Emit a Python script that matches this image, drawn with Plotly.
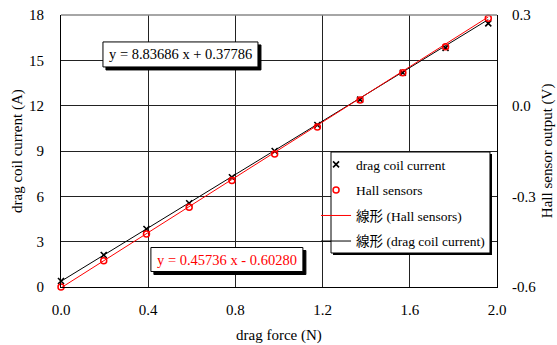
import plotly.graph_objects as go

# Measured data: drag force vs. drag coil current and Hall sensor output
force_n = [0.0, 0.196, 0.392, 0.588, 0.784, 0.98, 1.176, 1.372, 1.568, 1.764, 1.96]
coil_current_a = [0.40, 2.12, 3.84, 5.54, 7.26, 9.00, 10.72, 12.40, 14.18, 15.82, 17.45]
hall_output_v = [-0.600, -0.513, -0.425, -0.336, -0.248, -0.160, -0.071, 0.019, 0.109, 0.195, 0.289]

# Linear fit coefficients (slope, intercept)
coil_fit = (8.83686, 0.37786)
hall_fit = (0.45736, -0.60280)

x_ticks = [0.0, 0.4, 0.8, 1.2, 1.6, 2.0]
x_labels = ["0.0", "0.4", "0.8", "1.2", "1.6", "2.0"]
y_left_ticks = [0, 3, 6, 9, 12, 15, 18]
y_right_ticks = [-0.6, -0.3, 0.0, 0.3]
y_right_labels = ["-0.6", "-0.3", "0.0", "0.3"]

SERIF = "Liberation Serif, Noto Sans CJK JP, serif"
BASE = dict(family=SERIF, size=15, color="black")

fit_x = [force_n[0], force_n[-1]]
coil_line = [coil_fit[0] * x + coil_fit[1] for x in fit_x]
hall_line = [hall_fit[0] * x + hall_fit[1] for x in fit_x]

fig = go.Figure()

fig.add_trace(go.Scatter(
    x=fit_x, y=coil_line, mode="lines", name="線形 (drag coil current)",
    line=dict(color="black", width=1), legendgroup="d", legendrank=4,
))
fig.add_trace(go.Scatter(
    x=fit_x, y=hall_line, mode="lines", name="線形 (Hall sensors)",
    line=dict(color="#ff0000", width=1), yaxis="y2", legendgroup="c", legendrank=3,
))
fig.add_trace(go.Scatter(
    x=force_n, y=coil_current_a, mode="markers", name="drag coil current",
    marker=dict(symbol="x-thin", size=6, line=dict(color="black", width=1.6), color="black"),
    legendgroup="a", legendrank=1, cliponaxis=False,
))
fig.add_trace(go.Scatter(
    x=force_n, y=hall_output_v, mode="markers", name="Hall sensors",
    marker=dict(symbol="circle-open", size=6, color="#ff0000", line=dict(width=1.5)),
    yaxis="y2", legendgroup="b", legendrank=2, cliponaxis=False,
))

shapes = [
    # top frame edge
    dict(type="line", xref="paper", yref="paper", x0=0, x1=1, y0=1, y1=1,
         line=dict(color="#888", width=1.5), layer="above"),
]


# Equation boxes: shadow + white box drawn as pixel-sized shapes around the label
def equation(text, x, y, color, half_w, half_h):
    for dx, fill in ((3, "black"), (0, "white")):
        shapes.append(dict(
            type="rect", xref="x", yref="y", xsizemode="pixel", ysizemode="pixel",
            xanchor=x, yanchor=y,
            x0=-half_w + dx, x1=half_w + dx, y0=-half_h - dx, y1=half_h - dx,
            fillcolor=fill, line=dict(color="black", width=1), layer="above",
        ))
    fig.add_annotation(x=x, y=y, xref="x", yref="y", showarrow=False, text=text,
                       font=dict(family=SERIF, size=14.5, color=color))


equation("y = 8.83686 x + 0.37786", 0.548, 15.39, "black", 77.5, 12.5)
equation("y = 0.45736 x - 0.60280", 0.761, 1.82, "#ff0000", 76, 12)

# legend frame with drop shadow
shapes.append(dict(type="rect", xref="paper", yref="paper",
                   x0=0.6239, x1=0.9885, y0=0.1176, y1=0.4890,
                   fillcolor="black", line=dict(width=0), layer="above"))
shapes.append(dict(type="rect", xref="paper", yref="paper",
                   x0=0.6193, x1=0.9839, y0=0.1250, y1=0.4963,
                   fillcolor="white", line=dict(color="black", width=1), layer="above"))

# Axis titles
fig.add_annotation(text="drag force (N)", xref="paper", yref="paper", x=0.5, y=-0.18,
                   yanchor="middle", showarrow=False, font=BASE)
fig.add_annotation(text="drag coil current (A)", xref="paper", yref="paper",
                   x=-0.101, y=0.5, xanchor="center", textangle=-90, showarrow=False,
                   font=BASE)
fig.add_annotation(text="Hall sensor output (V)", xref="paper", yref="paper",
                   x=1.115, y=0.5, xanchor="center", textangle=-90, showarrow=False,
                   font=BASE)

axis_common = dict(
    ticks="", zeroline=False, automargin=False, tickfont=BASE,
    showline=True, linecolor="black", linewidth=1,
)

fig.update_layout(
    width=557, height=345,
    margin=dict(l=61, r=60, t=15, b=58),
    paper_bgcolor="white", plot_bgcolor="white",
    font=BASE,
    showlegend=True,
    legend=dict(
        x=0.585, y=0.507, xanchor="left", yanchor="top",
        bgcolor="rgba(0,0,0,0)", borderwidth=0,
        font=dict(family=SERIF, size=13.5, color="black"), tracegroupgap=5,
        traceorder="grouped", itemwidth=30,
    ),
    xaxis=dict(
        **axis_common,
        range=[0, 2.0], tickvals=x_ticks, ticktext=x_labels,
        showgrid=True, gridcolor="#222", gridwidth=1,
        ticklabelstandoff=9,
    ),
    yaxis=dict(
        **axis_common,
        range=[0, 18], tickvals=y_left_ticks,
        showgrid=True, gridcolor="#222", gridwidth=1,
        ticklabelstandoff=13,
    ),
    yaxis2=dict(
        **axis_common,
        range=[-0.6, 0.3], overlaying="y", side="right",
        tickvals=y_right_ticks, ticktext=y_right_labels,
        showgrid=False, ticklabelstandoff=11,
    ),
    shapes=shapes,
)

fig.write_html("out.html")
